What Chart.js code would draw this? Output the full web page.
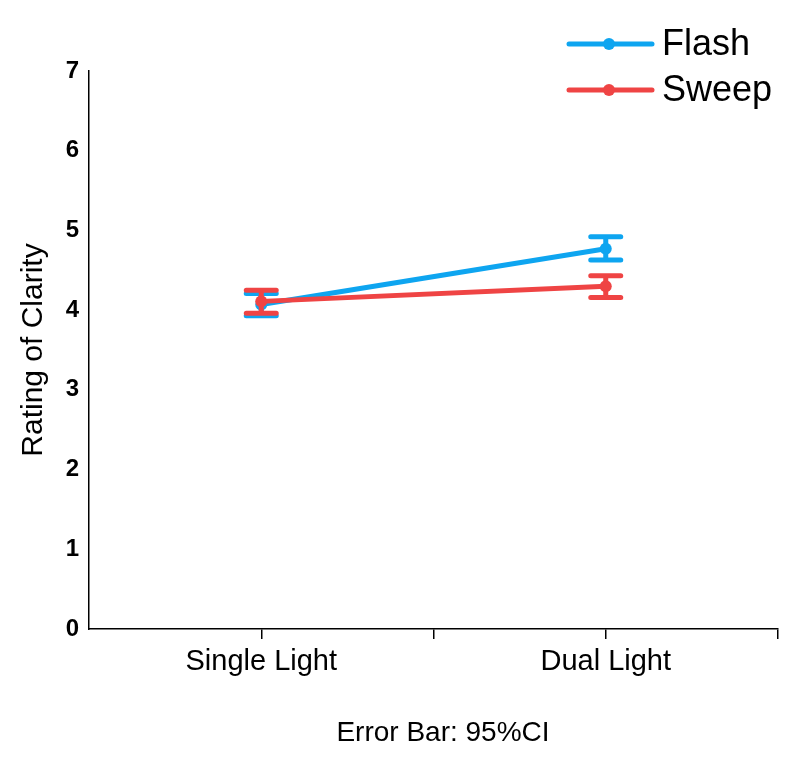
<!DOCTYPE html>
<html>
<head>
<meta charset="utf-8">
<script src="https://cdn.jsdelivr.net/npm/chart.js@4.4.0/dist/chart.umd.min.js"></script>
<style>
  html, body { margin: 0; padding: 0; background: #fff; }
  #wrap { width: 797px; height: 757px; }
</style>
</head>
<body>
<div id="wrap"><canvas id="chart-clarity"></canvas></div>
<script>
// Data
const categories = ["Single Light", "Dual Light"];
const seriesNames = ["Flash", "Sweep"];
const flashMean = [4.07, 4.77];
const flashLow = [3.93, 4.63];
const flashHigh = [4.21, 4.92];
const sweepMean = [4.11, 4.30];
const sweepLow = [3.96, 4.16];
const sweepHigh = [4.25, 4.43];
const yTicks = [0, 1, 2, 3, 4, 5, 6, 7];
const footNote = "Error Bar: 95%CI";

const blue = "#0ea5f0";
const red = "#ef4444";
const font = "'Liberation Sans', Arial, sans-serif";

// categories sit at odd positions of a 0..4 linear axis so boundary ticks show too
function points(means, lows, highs) {
  return means.map(function (m, i) {
    return { x: 2 * i + 1, y: m, lo: lows[i], hi: highs[i] };
  });
}

// error bars, drawn right after each dataset so layering follows the lines
const errorBars = {
  id: "errorBars",
  afterDatasetDraw(chart, args) {
    const ctx = chart.ctx;
    const ds = chart.data.datasets[args.index];
    const xs = chart.scales.x;
    const ys = chart.scales.y;
    ctx.save();
    ctx.strokeStyle = ds.borderColor;
    ctx.lineWidth = 5;
    ctx.lineCap = "round";
    ds.data.forEach(function (p) {
      const px = xs.getPixelForValue(p.x);
      const top = ys.getPixelForValue(p.hi);
      const bot = ys.getPixelForValue(p.lo);
      ctx.beginPath();
      ctx.moveTo(px, top);
      ctx.lineTo(px, bot);
      ctx.moveTo(px - 15, top);
      ctx.lineTo(px + 15, top);
      ctx.moveTo(px - 15, bot);
      ctx.lineTo(px + 15, bot);
      ctx.stroke();
    });
    ctx.restore();
  },
};

// legend in the top right corner + the note under the axis
const extras = {
  id: "extras",
  afterDraw(chart) {
    const ctx = chart.ctx;
    ctx.save();
    chart.data.datasets
      .slice()
      .sort(function (a, b) { return a.legendIndex - b.legendIndex; })
      .forEach(function (ds, i) {
        const y = 44 + i * 46;
        ctx.strokeStyle = ds.borderColor;
        ctx.lineWidth = 5;
        ctx.lineCap = "round";
        ctx.beginPath();
        ctx.moveTo(569, y);
        ctx.lineTo(652, y);
        ctx.stroke();
        ctx.fillStyle = ds.borderColor;
        ctx.beginPath();
        ctx.arc(609, y, 6, 0, Math.PI * 2);
        ctx.fill();
        ctx.fillStyle = "#000";
        ctx.font = "36px " + font;
        ctx.textBaseline = "middle";
        ctx.textAlign = "left";
        ctx.fillText(ds.label, 662, y + 1);
      });

    ctx.fillStyle = "#000";
    ctx.font = "28px " + font;
    ctx.textAlign = "center";
    ctx.textBaseline = "middle";
    ctx.fillText(footNote, 443, 733);
    ctx.restore();
  },
};

var ctx = document.getElementById("chart-clarity").getContext("2d");

new Chart(ctx, {
  type: "line",
  data: {
    datasets: [
      {
        label: seriesNames[0],
        legendIndex: 0,
        order: 1,
        data: points(flashMean, flashLow, flashHigh),
        borderColor: blue,
        backgroundColor: blue,
        borderWidth: 5,
        pointRadius: 6,
        pointBorderWidth: 0,
        tension: 0,
      },
      {
        label: seriesNames[1],
        legendIndex: 1,
        order: 0,
        data: points(sweepMean, sweepLow, sweepHigh),
        borderColor: red,
        backgroundColor: red,
        borderWidth: 5,
        pointRadius: 6,
        pointBorderWidth: 0,
        tension: 0,
      },
    ],
  },
  options: {
    responsive: true,
    maintainAspectRatio: false,
    animation: false,
    events: [],
    layout: {
      padding: { top: 71, right: 19, left: 0, bottom: 0 },
    },
    plugins: {
      legend: { display: false },
      tooltip: { enabled: false },
    },
    scales: {
      x: {
        type: "linear",
        min: 0,
        max: 4,
        afterFit: function (scale) {
          scale.height = 128;
        },
        border: { display: true, color: "#000", width: 1.5 },
        grid: {
          display: true,
          drawOnChartArea: false,
          drawTicks: true,
          tickLength: 10,
          lineWidth: 1.5,
          color: function (c) {
            return c.tick && c.tick.value === 0 ? "rgba(0,0,0,0)" : "#000";
          },
        },
        ticks: {
          stepSize: 1,
          autoSkip: false,
          maxRotation: 0,
          padding: 6,
          color: "#000",
          font: { size: 29, family: font },
          callback: function (v) {
            return v % 2 === 1 ? categories[(v - 1) / 2] : "";
          },
        },
      },
      y: {
        min: 0,
        max: 7,
        afterFit: function (scale) {
          scale.width = 89;
        },
        afterBuildTicks: function (scale) {
          scale.ticks = yTicks.map(function (v) { return { value: v }; });
        },
        border: { display: true, color: "#000", width: 1.5 },
        grid: {
          display: true,
          drawOnChartArea: false,
          drawTicks: false,
        },
        title: {
          display: true,
          text: "Rating of Clarity",
          color: "#000",
          font: { size: 30, family: font },
          padding: { top: 16, bottom: 0 },
        },
        ticks: {
          padding: 10,
          color: "#000",
          font: { size: 24, family: font, weight: "bold" },
        },
      },
    },
  },
  plugins: [errorBars, extras],
});
</script>
</body>
</html>
